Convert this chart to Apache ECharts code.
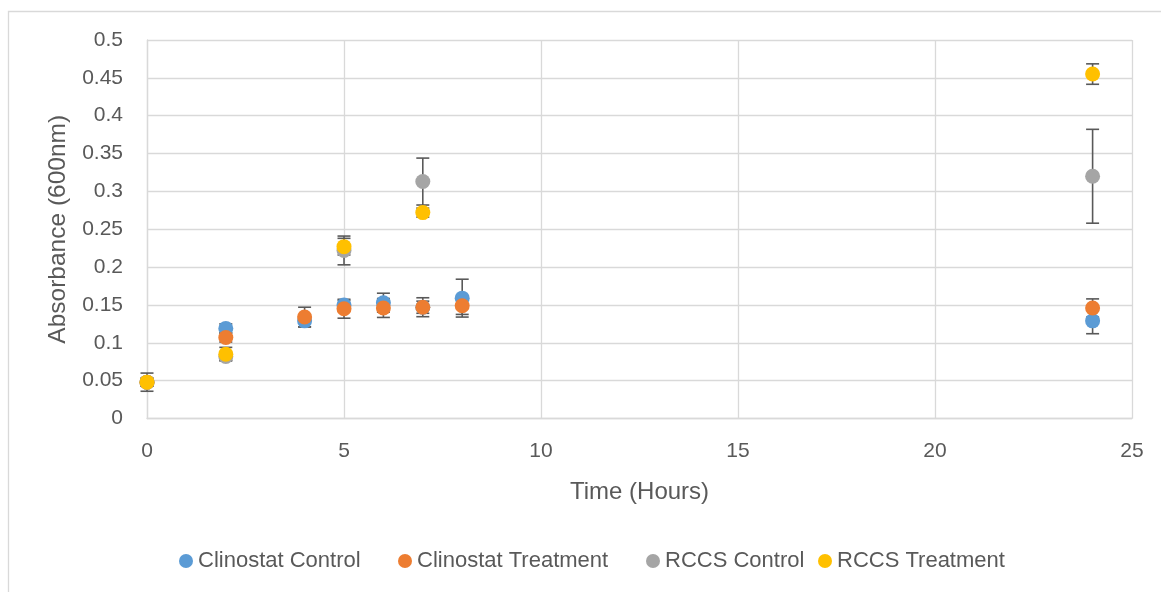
<!DOCTYPE html>
<html>
<head>
<meta charset="utf-8">
<script src="https://cdn.jsdelivr.net/npm/echarts@6/dist/echarts.min.js"></script>
<style>
  html, body { margin: 0; padding: 0; background: #ffffff; }
  #chart { width: 1161px; height: 592px; }
</style>
</head>
<body>
<div id="chart"></div>
<script>
// Sampling times (hours)
const hoursClinostat = [0, 2, 4, 5, 6, 7, 8, 24];
const hoursRccs = [0, 2, 5, 7, 24];

// Mean absorbance at 600 nm and its error (±)
const clinostatControl = [0.048, 0.119, 0.129, 0.150, 0.153, 0.147, 0.159, 0.129];
const clinostatControlErr = [0.005, 0.006, 0.008, 0.006, 0.0125, 0.008, 0.025, 0.017];
const clinostatTreatment = [0.048, 0.107, 0.134, 0.145, 0.146, 0.147, 0.149, 0.146];
const clinostatTreatmentErr = [0.005, 0.006, 0.013, 0.0125, 0.0125, 0.0125, 0.0115, 0.012];
const rccsControl = [0.048, 0.082, 0.222, 0.313, 0.320];
const rccsControlErr = [0.005, 0.005, 0.019, 0.031, 0.062];
const rccsTreatment = [0.048, 0.085, 0.227, 0.272, 0.455];
const rccsTreatmentErr = [0.012, 0.009, 0.011, 0.006, 0.0135];

const seriesNames = ['Clinostat Control', 'Clinostat Treatment', 'RCCS Control', 'RCCS Treatment'];
const seriesColors = ['#5B9BD5', '#ED7D31', '#A5A5A5', '#FFC000'];
// left edge of each legend entry
const legendLefts = [179, 398, 646, 818];

const xTicks = { min: 0, max: 25, interval: 5 };
const yTicks = { min: 0, max: 0.5, interval: 0.05 };

const textColor = '#595959';
const gridColor = '#d9d9d9';
const fontFamily = '"Liberation Sans", Arial, sans-serif';

const groups = [
  { x: hoursClinostat, y: clinostatControl, err: clinostatControlErr },
  { x: hoursClinostat, y: clinostatTreatment, err: clinostatTreatmentErr },
  { x: hoursRccs, y: rccsControl, err: rccsControlErr },
  { x: hoursRccs, y: rccsTreatment, err: rccsTreatmentErr }
];

function errorBarRenderer(params, api) {
  const hi = api.coord([api.value(0), api.value(2)]);
  const lo = api.coord([api.value(0), api.value(1)]);
  const hw = 6.5;
  const style = { stroke: '#595959', lineWidth: 1.6 };
  return {
    type: 'group',
    children: [
      { type: 'line', shape: { x1: hi[0], y1: hi[1], x2: lo[0], y2: lo[1] }, style: style },
      { type: 'line', shape: { x1: hi[0] - hw, y1: hi[1], x2: hi[0] + hw, y2: hi[1] }, style: style },
      { type: 'line', shape: { x1: lo[0] - hw, y1: lo[1], x2: lo[0] + hw, y2: lo[1] }, style: style }
    ]
  };
}

const series = [];
groups.forEach((g, i) => {
  series.push({
    name: seriesNames[i] + ' error',
    type: 'custom',
    renderItem: errorBarRenderer,
    data: g.x.map((h, k) => [h, g.y[k] - g.err[k], g.y[k] + g.err[k]]),
    encode: { x: 0, y: [1, 2] },
    z: 2,
    silent: true
  });
});
groups.forEach((g, i) => {
  series.push({
    name: seriesNames[i],
    type: 'scatter',
    data: g.x.map((h, k) => [h, g.y[k]]),
    symbol: 'circle',
    symbolSize: 15,
    itemStyle: { color: seriesColors[i], opacity: 1 },
    z: 3 + i
  });
});

const legends = seriesNames.map((name, i) => ({
  data: [name],
  top: 550,
  left: legendLefts[i],
  padding: 0,
  icon: 'circle',
  itemWidth: 14,
  itemHeight: 14,
  textStyle: { fontFamily: fontFamily, fontSize: 22, color: textColor }
}));

const chart = echarts.init(document.getElementById('chart'), null, { renderer: 'canvas' });
chart.setOption({
  animation: false,
  backgroundColor: '#ffffff',
  textStyle: { fontFamily: fontFamily, color: textColor },
  graphic: [{
    type: 'rect',
    silent: true,
    shape: { x: 8.5, y: 11.5, width: 1400, height: 800 },
    style: { fill: 'none', stroke: gridColor, lineWidth: 1.3 }
  }],
  grid: { left: 147, right: 29, top: 40, bottom: 173.5 },
  legend: legends,
  xAxis: {
    type: 'value',
    min: xTicks.min,
    max: xTicks.max,
    interval: xTicks.interval,
    name: 'Time (Hours)',
    nameLocation: 'middle',
    nameGap: 62,
    nameTextStyle: { fontFamily: fontFamily, fontSize: 24, color: textColor },
    axisLine: { show: true, lineStyle: { color: gridColor, width: 1.3 } },
    axisTick: { show: false },
    axisLabel: { margin: 22, fontSize: 21, color: textColor, fontFamily: fontFamily },
    splitLine: { show: true, lineStyle: { color: gridColor, width: 1.3 } }
  },
  yAxis: {
    type: 'value',
    min: yTicks.min,
    max: yTicks.max,
    interval: yTicks.interval,
    name: 'Absorbance (600nm)',
    nameLocation: 'middle',
    nameGap: 76,
    nameTextStyle: { fontFamily: fontFamily, fontSize: 24.5, color: textColor },
    axisLine: { show: true, lineStyle: { color: gridColor, width: 1.3 } },
    axisTick: { show: false },
    axisLabel: {
      margin: 24,
      fontSize: 21,
      color: textColor,
      fontFamily: fontFamily,
      formatter: v => String(+v.toFixed(2))
    },
    splitLine: { show: true, lineStyle: { color: gridColor, width: 1.3 } }
  },
  series: series
});
</script>
</body>
</html>
